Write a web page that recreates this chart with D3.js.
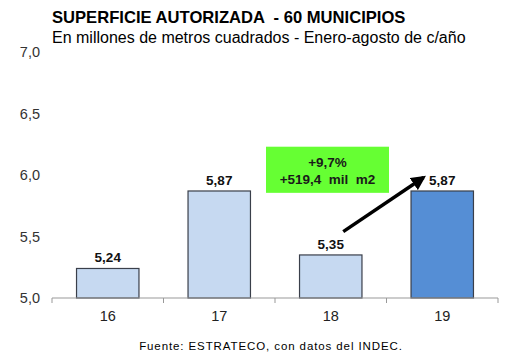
<!DOCTYPE html>
<html><head><meta charset="utf-8">
<script src="https://cdn.jsdelivr.net/npm/d3@7"></script>
<style>body{margin:0;background:#fff;} svg{display:block;font-family:Arial,"Liberation Sans",sans-serif;}</style>
</head><body><svg id="c" width="530" height="355"></svg>
<script>
const categories = ["16","17","18","19"];
const values = [5.24, 5.87, 5.35, 5.87];
const valueLabels = ["5,24","5,87","5,35","5,87"];
const yTicks = [5.0, 5.5, 6.0, 6.5, 7.0];
const yTickLabels = ["5,0","5,5","6,0","6,5","7,0"];
const title = "SUPERFICIE AUTORIZADA  - 60 MUNICIPIOS";
const subtitle = "En millones de metros cuadrados - Enero-agosto de c/año";
const annotation = ["+9,7%", "+519,4  mil  m2"];
const source = "Fuente: ESTRATECO, con datos del INDEC.";

const svg = d3.select("#c");
const x = d3.scaleBand().domain(categories).range([52, 498]).paddingInner(0.44).paddingOuter(0.22);
const y = d3.scaleLinear().domain([5, 7]).range([298, 52]);

svg.append("text").attr("x", 52).attr("y", 23).attr("font-size", 16.6).attr("font-weight", "bold").attr("fill", "#000").style("white-space","pre").text(title);
svg.append("text").attr("x", 52).attr("y", 43).attr("font-size", 16).attr("fill", "#000").text(subtitle);

// y tick labels
svg.selectAll(".yl").data(yTicks).enter().append("text")
  .attr("x", 40).attr("y", d => y(d)).attr("dy", "0.35em").attr("text-anchor", "end")
  .attr("font-size", 14.5).attr("fill", "#333").text((d,i) => yTickLabels[i]);

// bars
svg.selectAll(".bar").data(values).enter().append("rect")
  .attr("x", (d,i) => x(categories[i])).attr("width", x.bandwidth())
  .attr("y", d => y(d)).attr("height", d => y(5) - y(d))
  .attr("fill", (d,i) => i === 3 ? "#558ed5" : "#c6d9f1")
  .attr("stroke", "#3a3f4a").attr("stroke-width", 1.2);

// value labels
svg.selectAll(".vl").data(values).enter().append("text")
  .attr("x", (d,i) => x(categories[i]) + x.bandwidth()/2).attr("y", d => y(d) - 6)
  .attr("text-anchor", "middle").attr("font-size", 13.5).attr("font-weight", "bold").attr("fill", "#111")
  .text((d,i) => valueLabels[i]);

// x axis
const g = svg.append("g").attr("transform", `translate(0,${y(5)})`);
g.append("line").attr("x1", 52).attr("x2", 498).attr("stroke", "#999").attr("stroke-width", 1.2);
const bounds = d3.range(categories.length + 1).map(i => 52 + i * (446 / categories.length));
g.selectAll(".tk").data(bounds).enter().append("line")
  .attr("x1", d => d).attr("x2", d => d).attr("y1", 0).attr("y2", 5).attr("stroke", "#999");
g.selectAll(".xl").data(categories).enter().append("text")
  .attr("x", d => x(d) + x.bandwidth()/2).attr("y", 23).attr("text-anchor", "middle")
  .attr("font-size", 14.5).attr("fill", "#222").text(d => d);

// annotation box
const bx = 266, bw = 123;
const by = y(6.23), bh = y(5.855) - y(6.23);
svg.append("rect").attr("x", bx).attr("y", by).attr("width", bw).attr("height", bh).attr("fill", "#66ff33");
svg.selectAll(".an").data(annotation).enter().append("text")
  .attr("x", bx + bw/2).attr("y", (d,i) => by + 20 + i*17).attr("text-anchor", "middle")
  .attr("font-size", 13.5).attr("font-weight", "bold").attr("fill", "#1a1a1a").style("white-space","pre")
  .text(d => d);

// arrow
svg.append("defs").append("marker").attr("id", "ah").attr("viewBox", "0 0 10 10").attr("refX", 8).attr("refY", 5)
  .attr("markerWidth", 4.2).attr("markerHeight", 4.2).attr("orient", "auto")
  .append("path").attr("d", "M0,0 L10,5 L0,10 Z").attr("fill", "#000");
const ax1 = x("18") + x.bandwidth()*0.7, ay1 = y(5.54);
const ax2 = x("19") + x.bandwidth()*0.2, ay2 = y(5.98);
svg.append("line").attr("x1", ax1).attr("y1", ay1).attr("x2", ax2).attr("y2", ay2)
  .attr("stroke", "#000").attr("stroke-width", 3.5).attr("marker-end", "url(#ah)");

svg.append("text").attr("x", 271).attr("y", 350).attr("text-anchor", "middle").attr("font-size", 11.5)
  .attr("letter-spacing", 0.9).attr("fill", "#000").text(source);
</script></body></html>
